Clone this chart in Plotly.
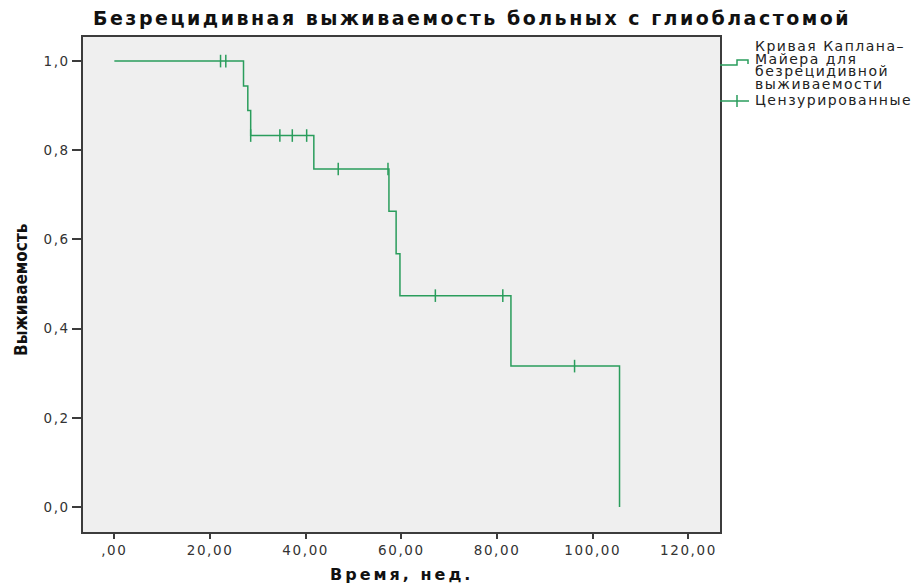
import plotly.graph_objects as go

# Kaplan–Meier step curve: event times (weeks) and survival after each event
event_times = [27.0, 27.9, 28.5, 41.7, 57.4, 58.9, 59.7, 82.9, 105.6]
survival_after = [0.944, 0.889, 0.833, 0.758, 0.663, 0.568, 0.474, 0.316, 0.0]
start_time = 0.0
start_survival = 1.0

# Censored observations (weeks) and the survival level at which they sit
censor_times = [22.2, 23.3, 28.5, 34.6, 37.2, 40.2, 46.8, 57.2, 67.1, 81.2, 96.2]
censor_survival = [1.0, 1.0, 0.833, 0.833, 0.833, 0.833, 0.758, 0.758, 0.474, 0.474, 0.316]

x_ticks = [0, 20, 40, 60, 80, 100, 120]
x_tick_text = [",00", "20,00", "40,00", "60,00", "80,00", "100,00", "120,00"]
y_ticks = [0.0, 0.2, 0.4, 0.6, 0.8, 1.0]
y_tick_text = ["0,0", "0,2", "0,4", "0,6", "0,8", "1,0"]

title_text = "Безрецидивная выживаемость больных с глиобластомой"
x_title = "Время, нед."
y_title = "Выживаемость"
legend_curve_lines = ["Кривая Каплана–", "Майера для", "безрецидивной", "выживаемости"]
legend_censor = "Цензурированные"

GREEN = "#2a9d5c"
FRAME = "#3c3c3c"
FONT = "DejaVu Sans"

W, H = 913, 584
M_L, M_R, M_T, M_B = 83, 193, 37, 52
PLOT_W = W - M_L - M_R
PLOT_H = H - M_T - M_B


def spaced(text, px, size=None):
    """Wrap text in a span with extra letter spacing (and optional size)."""
    style = "letter-spacing:%spx" % px
    if size is not None:
        style += ";font-size:%spx" % size
    return '<span style="%s">%s</span>' % (style, text)


def px_to_paper(px, py):
    """Convert a figure pixel position to paper coordinates."""
    return (px - M_L) / PLOT_W, (H - M_B - py) / PLOT_H


# build step path from the event list
step_x = [start_time]
step_y = [start_survival]
for t, s in zip(event_times, survival_after):
    step_x.append(t)
    step_y.append(s)

fig = go.Figure()
fig.add_trace(go.Scatter(
    x=step_x, y=step_y, mode="lines", line=dict(color=GREEN, width=1.5, shape="hv"),
    showlegend=False, hoverinfo="skip"))
fig.add_trace(go.Scatter(
    x=censor_times, y=censor_survival, mode="markers",
    marker=dict(symbol="line-ns", size=9, line=dict(color=GREEN, width=1.5)),
    showlegend=False))

axis_common = dict(
    showline=True, linecolor=FRAME, linewidth=1.5, mirror=True,
    showgrid=False, zeroline=False, ticks="outside", tickcolor=FRAME,
    tickwidth=1.5, tickfont=dict(family=FONT, size=13.5, color="#333333"),
)

fig.update_xaxes(range=[-6.55, 126.6], tickvals=x_ticks,
                 ticktext=[spaced(t, 1.6) for t in x_tick_text],
                 ticklen=5, **axis_common)
fig.update_yaxes(range=[-0.056, 1.054], tickvals=y_ticks,
                 ticktext=[spaced(t, 1.5) for t in y_tick_text],
                 ticklen=9, **axis_common)

annotations = [
    dict(text="<b>%s</b>" % spaced(title_text, 2.5), xref="paper", yref="paper",
         x=0.611, y=1.0, yshift=6, xanchor="center", yanchor="bottom", showarrow=False,
         font=dict(family=FONT, size=19, color="#111111")),
    dict(text="<b>%s</b>" % spaced(x_title, 3), xref="paper", yref="paper",
         x=0.5, y=0, yshift=-42, xanchor="center", yanchor="middle", showarrow=False,
         font=dict(family=FONT, size=16, color="#111111")),
    dict(text="<b>%s</b>" % y_title, xref="paper", yref="paper",
         x=0, xshift=-50, y=0.489, xanchor="right", yanchor="middle", showarrow=False,
         textangle=-90, font=dict(family="DejaVu Sans Condensed", size=17, color="#111111")),
]

# legend text: the curve label wraps over four tightly pitched lines
LEGEND_SIZE = 14
LINE_PITCH = 12.5
legend_text_x = 754
curve_label = "<br>".join(spaced(s, 1.5, LEGEND_SIZE) for s in legend_curve_lines)
lx, ly = px_to_paper(legend_text_x, 64.5)
annotations.append(dict(text=curve_label, xref="paper", yref="paper", x=lx, y=ly,
                        xanchor="left", yanchor="middle", align="left", showarrow=False,
                        borderpad=0,
                        font=dict(family=FONT, size=LINE_PITCH / 1.3, color="#222222")))
lx, ly = px_to_paper(legend_text_x, 100)
annotations.append(dict(text=spaced(legend_censor, 1.5), xref="paper", yref="paper", x=lx, y=ly,
                        xanchor="left", yanchor="middle", showarrow=False, borderpad=0,
                        font=dict(family=FONT, size=LEGEND_SIZE, color="#222222")))

# legend icons: a small step for the curve, a crossed line for censoring
step_icon = [(720, 65), (737, 65), (737, 60), (748, 60), (748, 64)]
pts = [px_to_paper(px, py) for px, py in step_icon]
path = "M " + " L ".join("%.5f %.5f" % p for p in pts)
shapes = [dict(type="path", path=path, xref="paper", yref="paper",
               line=dict(color=GREEN, width=1.5))]
cy = 101
a = px_to_paper(720, cy)
b = px_to_paper(749, cy)
shapes.append(dict(type="line", xref="paper", yref="paper", x0=a[0], y0=a[1], x1=b[0], y1=b[1],
                   line=dict(color=GREEN, width=1.5)))
t0 = px_to_paper(737, cy - 6)
t1 = px_to_paper(737, cy + 6)
shapes.append(dict(type="line", xref="paper", yref="paper", x0=t0[0], y0=t0[1], x1=t1[0], y1=t1[1],
                   line=dict(color=GREEN, width=1.5)))

fig.update_layout(
    width=W, height=H,
    margin=dict(l=M_L, r=M_R, t=M_T, b=M_B, autoexpand=False),
    paper_bgcolor="white", plot_bgcolor="#efefef",
    font=dict(family=FONT, color="#222222"),
    showlegend=False,
    annotations=annotations,
    shapes=shapes,
)

fig.write_html("out.html")
